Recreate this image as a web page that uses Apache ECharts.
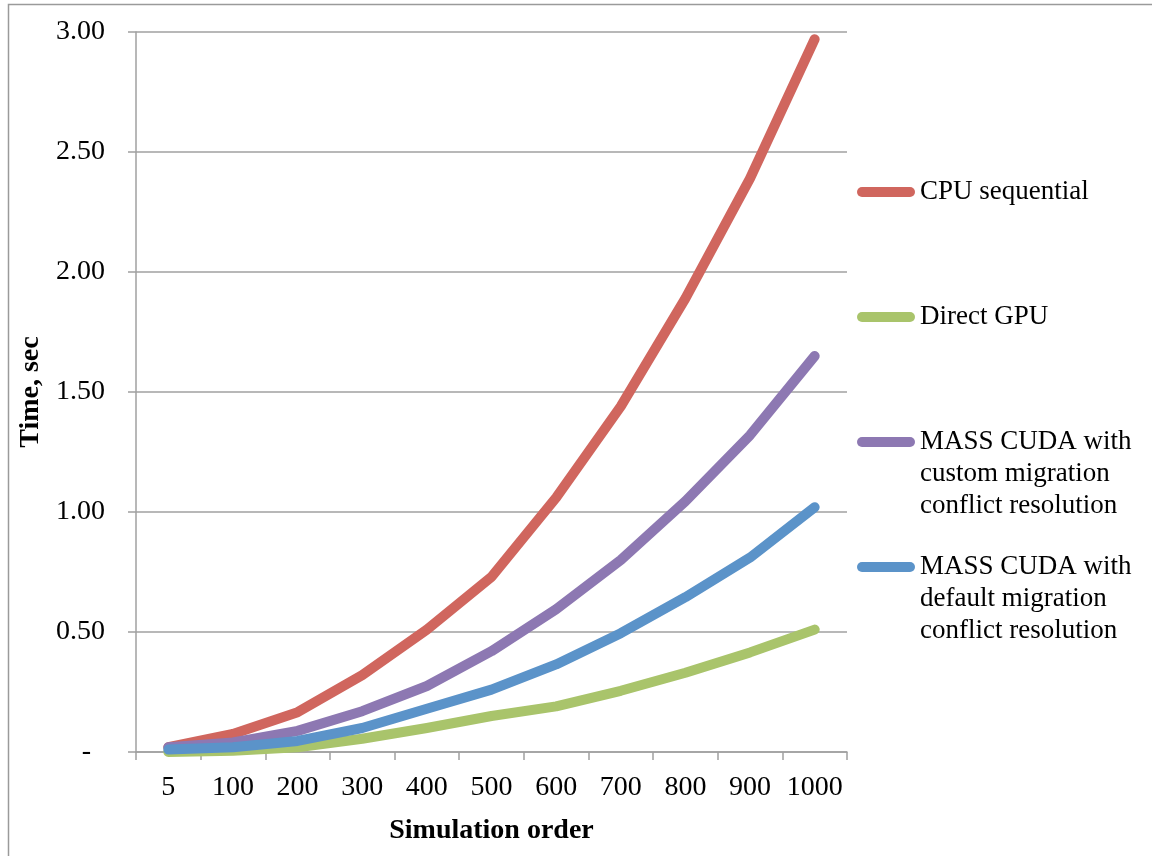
<!DOCTYPE html>
<html>
<head>
<meta charset="utf-8">
<script src="https://cdn.jsdelivr.net/npm/echarts@6/dist/echarts.min.js"></script>
<style>
  html, body { margin: 0; padding: 0; background: #fff; }
  #chart { width: 1152px; height: 856px; }
</style>
</head>
<body>
<div id="chart"></div>
<script>
const categories = ['5', '100', '200', '300', '400', '500', '600', '700', '800', '900', '1000'];
const cpuSequential = [0.02, 0.075, 0.166, 0.32, 0.51, 0.73, 1.06, 1.44, 1.89, 2.39, 2.97];
const directGPU = [0.0, 0.005, 0.02, 0.055, 0.10, 0.15, 0.19, 0.255, 0.33, 0.415, 0.51];
const massCustom = [0.02, 0.04, 0.088, 0.17, 0.275, 0.42, 0.595, 0.80, 1.045, 1.32, 1.65];
const massDefault = [0.01, 0.02, 0.046, 0.10, 0.18, 0.26, 0.365, 0.495, 0.645, 0.81, 1.02];
const seriesNames = [
  'CPU sequential',
  'Direct GPU',
  'MASS CUDA with\ncustom migration\nconflict resolution',
  'MASS CUDA with\ndefault migration\nconflict resolution'
];
const colors = ['#D0665E', '#A9C46B', '#8D78B2', '#5B93C9'];

const FONT = '"Liberation Serif", "Times New Roman", serif';
const chart = echarts.init(document.getElementById('chart'), null, { renderer: 'canvas' });

function mkSeries(name, data, color) {
  return {
    name: name,
    type: 'line',
    data: data,
    symbol: 'none',
    smooth: false,
    color: color,
    lineStyle: { width: 10, color: color, cap: 'round', join: 'round' },
    emphasis: { disabled: true },
    animation: false
  };
}

// legend: icon aligned with the first text line; pad every label to 5 lines
function legendLabel(name) {
  const lines = name.split('\n');
  const padded = ['', ''].concat(lines);
  while (padded.length < 5) padded.push('');
  return padded.join('\n');
}

chart.setOption({
  animation: false,
  backgroundColor: '#ffffff',
  color: colors,
  graphic: [{
    type: 'rect',
    shape: { x: 8.5, y: 4.5, width: 1300, height: 1000 },
    style: { fill: 'none', stroke: '#9a9a9a', lineWidth: 1.5 },
    silent: true
  }],
  grid: { left: 136, right: 305, top: 32, bottom: 104, containLabel: false },
  legend: {
    orient: 'vertical',
    left: 857,
    top: 112,
    padding: 0,
    itemWidth: 58,
    itemHeight: 10,
    itemGap: -35,
    icon: 'path://M5,0 L53,0 A5,5 0 0 1 53,10 L5,10 A5,5 0 0 1 5,0 Z',
    formatter: legendLabel,
    textStyle: { fontFamily: FONT, fontSize: 27, color: '#000', lineHeight: 32 },
    selectedMode: false,
    data: seriesNames
  },
  xAxis: {
    type: 'category',
    data: categories,
    boundaryGap: true,
    name: 'Simulation order',
    nameLocation: 'middle',
    nameGap: 65,
    nameTextStyle: { fontFamily: FONT, fontSize: 28, fontWeight: 'bold', color: '#000' },
    axisLine: { show: true, lineStyle: { color: '#a0a0a0', width: 1.5 } },
    axisTick: { show: true, alignWithLabel: false, length: 8, lineStyle: { color: '#a0a0a0', width: 1.5 } },
    axisLabel: { fontFamily: FONT, fontSize: 28, color: '#000', margin: 22, interval: 0 },
    splitLine: { show: false }
  },
  yAxis: {
    type: 'value',
    min: 0,
    max: 3,
    interval: 0.5,
    name: 'Time, sec',
    nameLocation: 'middle',
    nameRotate: 90,
    nameGap: 82,
    nameTextStyle: { fontFamily: FONT, fontSize: 28, fontWeight: 'bold', color: '#000' },
    axisLine: { show: true, lineStyle: { color: '#a0a0a0', width: 1.5 } },
    axisTick: { show: true, length: 8, lineStyle: { color: '#a0a0a0', width: 1.5 } },
    axisLabel: {
      fontFamily: FONT, fontSize: 28, color: '#000', margin: 31,
      formatter: function (v) { return v === 0 ? '-  ' : v.toFixed(2); }
    },
    splitLine: { show: true, lineStyle: { color: '#a0a0a0', width: 1.5 } }
  },
  series: [
    mkSeries(seriesNames[0], cpuSequential, colors[0]),
    mkSeries(seriesNames[1], directGPU, colors[1]),
    mkSeries(seriesNames[2], massCustom, colors[2]),
    mkSeries(seriesNames[3], massDefault, colors[3])
  ]
});
</script>
</body>
</html>
